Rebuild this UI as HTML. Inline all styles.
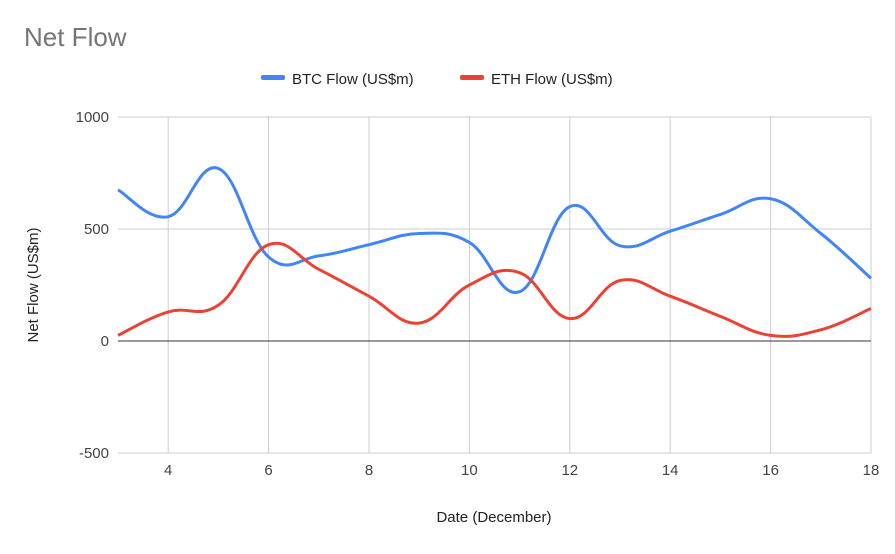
<!DOCTYPE html>
<html><head><meta charset="utf-8"><style>
body{margin:0;background:#fff;font-family:"Liberation Sans",Arial,sans-serif}
svg text{font-family:"Liberation Sans",Arial,sans-serif}
</style></head><body>
<svg id="chart" width="895" height="549">
<rect width="895" height="549" fill="#fff"/>
<text x="24" y="46" font-size="26" fill="#757575">Net Flow</text>
<g>
<g><rect x="261" y="75" width="24" height="5" rx="2" fill="#4285f4"/><text x="292" y="84" font-size="15" fill="#222">BTC Flow (US$m)</text></g>
<g><rect x="460" y="75" width="24" height="5" rx="2" fill="#ea4335"/><text x="491" y="84" font-size="15" fill="#222">ETH Flow (US$m)</text></g>
</g>
<g id="grid"></g><g id="series"></g><g id="labels"></g>
<text transform="translate(38,285) rotate(-90)" text-anchor="middle" font-size="15" fill="#222">Net Flow (US$m)</text>
<text x="494" y="522" text-anchor="middle" font-size="15" fill="#222">Date (December)</text>
</svg>
<script>
const days=[3,4,5,6,7,8,9,10,11,12,13,14,15,16,17,18];
const btc=[675,555,770,375,380,430,480,440,220,600,425,490,565,635,480,280];
const eth=[25,130,160,430,320,200,80,250,305,100,270,200,110,25,50,145];
const yTicks=[-500,0,500,1000];
const xTicks=[4,6,8,10,12,14,16,18];
const X0=118,X1=871,Y0=341,PPU=112/500;
const xs=d=>X0+(d-3)*(X1-X0)/15;
const ys=v=>Y0-v*PPU;
const NS="http://www.w3.org/2000/svg";
const grid=document.getElementById('grid'),lab=document.getElementById('labels'),ser=document.getElementById('series');
function mk(tag,at,p){const e=document.createElementNS(NS,tag);for(const k in at)e.setAttribute(k,at[k]);p.appendChild(e);return e;}
xTicks.forEach(d=>{
const l=mk('line',{x1:xs(d),x2:xs(d),y1:ys(1000),y2:ys(-500),stroke:'#ccc'},grid);


const t=mk('text',{x:xs(d),y:475,'text-anchor':'middle','font-size':15,fill:'#444'},lab);t.textContent=d;


});
yTicks.forEach(v=>{
const l=mk('line',{x1:X0,x2:X1,y1:ys(v),y2:ys(v),stroke:v===0?'#333':'#ccc'},grid);


const t=mk('text',{x:X0-9,y:ys(v)+5,'text-anchor':'end','font-size':15,fill:'#444'},lab);t.textContent=v;


});
function path(vals){
const p=days.map((d,i)=>[xs(d),ys(vals[i])]);
let s='M'+p[0][0]+','+p[0][1];
for(let i=0;i<p.length-1;i++){
const p0=p[Math.max(0,i-1)],p1=p[i],p2=p[i+1],p3=p[Math.min(p.length-1,i+2)];
const k=0.2;
s+=' C'+(p1[0]+(p2[0]-p0[0])*k)+','+(p1[1]+(p2[1]-p0[1])*k)+' '+(p2[0]-(p3[0]-p1[0])*k)+','+(p2[1]-(p3[1]-p1[1])*k)+' '+p2[0]+','+p2[1];
}
return s;
}
const b=mk('path',{d:path(btc),fill:'none',stroke:'#4285f4','stroke-width':3},ser);


const e=mk('path',{d:path(eth),fill:'none',stroke:'#ea4335','stroke-width':3},ser);


</script>
</body></html>
